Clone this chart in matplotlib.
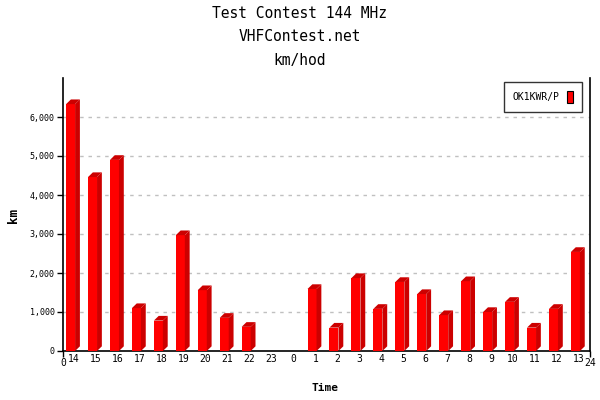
import matplotlib
matplotlib.use('Agg')
import matplotlib.pyplot as plt
from matplotlib.patches import Polygon, Patch

plt.rcParams['font.family'] = ['DejaVu Sans Mono']

# data
hours = ['14', '15', '16', '17', '18', '19', '20', '21', '22', '23', '0',
         '1', '2', '3', '4', '5', '6', '7', '8', '9', '10', '11', '12', '13']
km = [6330, 4460, 4900, 1100, 780, 2970, 1560, 850, 620, 0, 0,
      1590, 600, 1870, 1080, 1770, 1460, 920, 1790, 1000, 1260, 600, 1080, 2540]
station = 'OK1KWR/P'

front = '#ff0000'
side = '#cc0000'

fig = plt.figure(figsize=(6, 4), dpi=100)
fig.patch.set_facecolor('white')
ax = fig.add_axes([0.105, 0.1225, 0.878, 0.6825])
ax.set_xlim(0, 24)
ax.set_ylim(0, 7000)

bw = 0.41
dx, dy = 0.22, 120
for i, v in enumerate(km):
    if v <= 0:
        continue
    x0 = i + 0.14
    ax.bar(x0, v, width=bw, align='edge', color=front, zorder=3, linewidth=0)
    x1 = x0 + bw
    ax.add_patch(Polygon([(x1, 0), (x1 + dx, dy), (x1 + dx, v + dy), (x1, v)],
                         closed=True, facecolor=side, edgecolor='none', zorder=3))
    ax.add_patch(Polygon([(x0, v), (x0 + dx, v + dy), (x1 + dx, v + dy), (x1, v)],
                         closed=True, facecolor=side, edgecolor='none', zorder=3))

# grid
for g in range(1000, 7000, 1000):
    ax.axhline(g, color='#c0c0c0', lw=1, ls=(0, (2.5, 3.5)), zorder=1)

ax.spines['top'].set_visible(False)
for s in ['left', 'right', 'bottom']:
    ax.spines[s].set_linewidth(1.2)

ax.set_yticks(range(0, 7000, 1000))
ax.set_yticklabels([f'{t:,}' for t in range(0, 7000, 1000)], fontsize=6)
ax.tick_params(axis='y', length=4, width=1, pad=2)

ax.set_xticks([0, 24])
ax.set_xticklabels(['0', '24'], fontsize=7)
ax.tick_params(axis='x', which='major', length=4, width=1, pad=1)
ax.set_xticks([i + 0.5 for i in range(24)], minor=True)
ax.set_xticklabels(hours, minor=True, fontsize=7)
ax.tick_params(axis='x', which='minor', length=0, pad=2)

fig.text(0.022, 0.462, 'km', rotation=90, ha='center', va='center',
         fontsize=9, fontweight='bold')
fig.text(0.542, 0.03, 'Time', ha='center', va='center', fontsize=8, fontweight='bold')

fig.text(0.5, 0.965, 'Test Contest 144 MHz', ha='center', va='center', fontsize=10.5)
fig.text(0.5, 0.908, 'VHFContest.net', ha='center', va='center', fontsize=10.5)
fig.text(0.5, 0.85, 'km/hod', ha='center', va='center', fontsize=10.5)

leg = ax.legend([Patch(facecolor=front, edgecolor='black', linewidth=0.8)], [station],
                loc='upper right', bbox_to_anchor=(0.985, 0.985), fontsize=7,
                markerfirst=False, fancybox=False, edgecolor='black',
                handlelength=0.6, handleheight=1.6, borderpad=0.9, handletextpad=0.8,
                borderaxespad=0)
leg.get_frame().set_linewidth(1)

fig.savefig('out.png', dpi=100, facecolor='white')
